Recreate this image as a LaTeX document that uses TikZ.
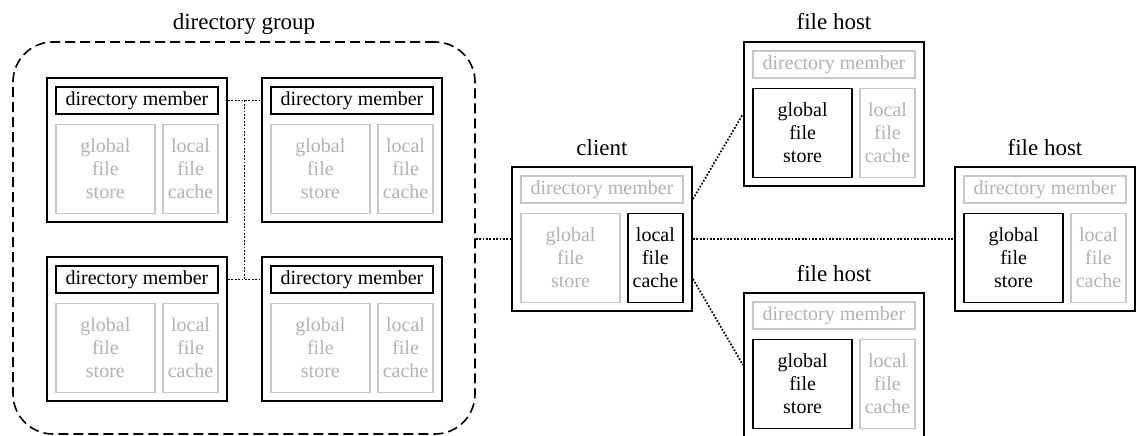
\documentclass[tikz,border=0pt]{standalone}
\usepackage{fontspec}
\setmainfont{Liberation Serif}
\usetikzlibrary{positioning}

\tikzset{
  hostbox/.style={draw, line width=1pt, minimum width=90pt, minimum height=72pt, inner sep=0pt},
  part/.style={inner sep=0pt, align=center, font=\fontsize{10}{11.5}\selectfont},
  used/.style={part, draw=black, text=black, line width=0.9pt},
  unused/.style={part, draw=black!22, text=black!30, line width=0.8pt},
  hostlabel/.style={anchor=base, font=\fontsize{11.5}{13}\selectfont},
  link/.style={line width=0.85pt, dash pattern=on 0.85pt off 0.85pt},
  groupbox/.style={draw, line width=0.8pt, rounded corners=20pt, dash pattern=on 5pt off 2.5pt,
    minimum width=231pt, minimum height=196pt}
}

% one host: name, position, style of member / store / cache
\newcommand{\dirhost}[5]{%
  \node[hostbox] (#1) at (#2) {};
  \node[#3, below=4.5pt of #1.north, minimum width=81pt, minimum height=13.5pt] (#1-dm) {directory member};
  \node[#4, anchor=north west, minimum width=49.5pt, minimum height=44.5pt] (#1-gfs) at ([yshift=-4.5pt]#1-dm.south west) {global\\file\\store};
  \node[#5, anchor=north east, minimum width=27.5pt, minimum height=44.5pt] (#1-lfc) at ([yshift=-4.5pt]#1-dm.south east) {local\\file\\cache};
}

\begin{document}
\begin{tikzpicture}[x=1pt,y=1pt]
\useasboundingbox (0,0) rectangle (568,217.5);

% directory group
\node[groupbox] (group) at (122,98.5) {};
\node[hostlabel] (group-lbl) at ([yshift=6pt]group.north) {directory group};

\dirhost{tl}{68.5,142.5}{used}{unused}{unused}
\dirhost{tr}{176,142.5}{used}{unused}{unused}
\dirhost{bl}{68.5,53}{used}{unused}{unused}
\dirhost{br}{176,53}{used}{unused}{unused}

\draw[link] (tl.east |- tl-dm) -- coordinate[midway] (gap-top) (tr.west |- tr-dm);
\draw[link] (bl.east |- bl-dm) -- coordinate[midway] (gap-bot) (br.west |- br-dm);
\draw[link] (gap-top) -- (gap-bot);

% client and file hosts
\dirhost{client}{301,98}{unused}{unused}{used}
\node[hostlabel] (client-lbl) at ([yshift=5.5pt]client.north) {client};

\dirhost{top}{417,160.5}{unused}{used}{unused}
\node[hostlabel] (top-lbl) at ([yshift=5.5pt]top.north) {file host};

\dirhost{right}{522.5,98}{unused}{used}{unused}
\node[hostlabel] (right-lbl) at ([yshift=5.5pt]right.north) {file host};

\dirhost{bottom}{417,35}{unused}{used}{unused}
\node[hostlabel] (bottom-lbl) at ([yshift=5.5pt]bottom.north) {file host};

\draw[link] (group.east |- client) -- (client);
\draw[link] ([yshift=20pt]client.east) -- (top.west);
\draw[link] (client) -- (right);
\draw[link] ([yshift=-20pt]client.east) -- (bottom.west);

\end{tikzpicture}
\end{document}
